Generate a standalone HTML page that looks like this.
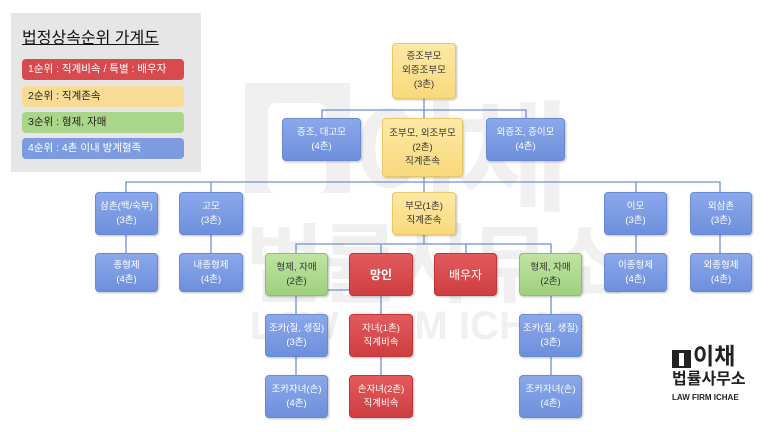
<!DOCTYPE html>
<html><head><meta charset="utf-8"><style>
*{margin:0;padding:0;box-sizing:border-box}
body{width:768px;height:432px;background:#fff;position:relative;overflow:hidden;font-family:"Liberation Sans","Noto Sans CJK KR",sans-serif}
.b{position:absolute;border-radius:4px;display:flex;align-items:center;justify-content:center;text-align:center;font-size:9.5px;line-height:14px;box-shadow:1px 1px 2px rgba(0,0,0,.25);white-space:nowrap}
.bl{background:linear-gradient(#8aa8ea,#6e8fdc);color:#fff;border:1px solid #6a8ad6}
.yl{background:linear-gradient(#fde9a6,#f8d97c);color:#333;border:1px solid #e8c866}
.gr{background:linear-gradient(#bfe4a2,#9fd07e);color:#333;border:1px solid #8cc06c}
.rd{background:linear-gradient(#e35a5c,#cf3e41);color:#fff;border:1px solid #c03638}
.wm{position:absolute;color:#f0f0f0;font-weight:bold;white-space:nowrap}
.lg{position:absolute;left:22px;width:162px;height:21px;border-radius:4px;font-size:10.5px;line-height:21px;padding-left:6px;white-space:nowrap}
</style></head><body>
<div style="position:absolute;left:245px;top:83px;width:105px;height:110px;background:#f0f0f0"></div>
<div style="position:absolute;left:268px;top:103px;width:58px;height:90px;background:#fff;border-radius:8px"></div>
<div class="wm" style="left:352px;top:62px;font-size:120px;letter-spacing:-4px">이채</div>
<div class="wm" style="left:245px;top:195px;font-size:86px;letter-spacing:-4px">법률사무소</div>
<div class="wm" style="left:250px;top:304px;font-size:40px">LAW FIRM ICHAE</div>

<div style="position:absolute;left:11px;top:13px;width:190px;height:159px;background:#e6e6e6"></div>
<div style="position:absolute;left:22px;top:24px;font-size:16px;text-decoration:underline;color:#111">법정상속순위 가계도</div>
<div class="lg" style="top:59px;background:#d94a4e;color:#fff">1순위 : 직계비속 / 특별 : 배우자</div>
<div class="lg" style="top:86px;background:#f8dc96;color:#222">2순위 : 직계존속</div>
<div class="lg" style="top:112px;background:#a9d68a;color:#222">3순위 : 형제, 자매</div>
<div class="lg" style="top:138px;background:#7c9be0;color:#fff">4순위 : 4촌 이내 방계혈족</div>

<svg style="position:absolute;left:0;top:0" width="768" height="432" stroke="#6f8fd3" stroke-width="1.3" fill="none">
<path d="M424 99V118M322 118V110H526V118"/>
<path d="M424 177V192M126 192V182H720V192M211 182V192M636 182V192"/>
<path d="M126 235V253M211 235V253M636 235V253M720 235V253"/>
<path d="M424 235V244M296 253V244H551V253M381 244V253M466 244V253"/>
<path d="M328 290H349"/>
<path d="M296 296V314M381 296V314M551 296V314M296 357V375M381 357V375M551 357V375"/>
</svg>

<div class="b yl" style="left:392px;top:43px;width:64px;height:56px">증조부모<br>외증조부모<br>(3촌)</div>
<div class="b bl" style="left:282px;top:118px;width:79px;height:43px">증조, 대고모<br>(4촌)</div>
<div class="b yl" style="left:382px;top:118px;width:81px;height:59px">조부모, 외조부모<br>(2촌)<br>직계존속</div>
<div class="b bl" style="left:486px;top:118px;width:79px;height:43px">외증조, 증이모<br>(4촌)</div>

<div class="b bl" style="left:95px;top:192px;width:63px;height:43px">삼촌(백/숙부)<br>(3촌)</div>
<div class="b bl" style="left:179px;top:192px;width:64px;height:43px">고모<br>(3촌)</div>
<div class="b yl" style="left:392px;top:192px;width:64px;height:43px">부모(1촌)<br>직계존속</div>
<div class="b bl" style="left:604px;top:192px;width:63px;height:43px">이모<br>(3촌)</div>
<div class="b bl" style="left:690px;top:192px;width:62px;height:43px">외삼촌<br>(3촌)</div>

<div class="b bl" style="left:95px;top:253px;width:63px;height:39px">종형제<br>(4촌)</div>
<div class="b bl" style="left:179px;top:253px;width:64px;height:39px">내종형제<br>(4촌)</div>
<div class="b bl" style="left:604px;top:253px;width:63px;height:39px">이종형제<br>(4촌)</div>
<div class="b bl" style="left:690px;top:253px;width:62px;height:39px">외종형제<br>(4촌)</div>

<div class="b gr" style="left:265px;top:253px;width:63px;height:43px">형제, 자매<br>(2촌)</div>
<div class="b rd" style="left:349px;top:253px;width:64px;height:43px;font-size:12px;font-weight:bold">망인</div>
<div class="b rd" style="left:434px;top:253px;width:63px;height:43px;font-size:12px">배우자</div>
<div class="b gr" style="left:519px;top:253px;width:63px;height:43px">형제, 자매<br>(2촌)</div>

<div class="b bl" style="left:265px;top:314px;width:63px;height:43px">조카(질, 생질)<br>(3촌)</div>
<div class="b rd" style="left:349px;top:314px;width:64px;height:43px">자녀(1촌)<br>직계비속</div>
<div class="b bl" style="left:519px;top:314px;width:63px;height:43px">조카(질, 생질)<br>(3촌)</div>
<div class="b bl" style="left:265px;top:375px;width:63px;height:43px">조카자녀(손)<br>(4촌)</div>
<div class="b rd" style="left:349px;top:375px;width:64px;height:43px">손자녀(2촌)<br>직계비속</div>
<div class="b bl" style="left:519px;top:375px;width:63px;height:43px">조카자녀(손)<br>(4촌)</div>

<div style="position:absolute;left:672px;top:350px;width:19px;height:18px;background:#222"></div>
<div style="position:absolute;left:679px;top:353px;width:5px;height:13px;background:#fff"></div>
<div style="position:absolute;left:693px;top:343px;font-size:23px;font-weight:bold;color:#222;line-height:27px">이채</div>
<div style="position:absolute;left:672px;top:371px;font-size:16px;font-weight:bold;color:#222;line-height:18px">법률사무소</div>
<div style="position:absolute;left:672px;top:393px;font-size:8px;font-weight:bold;color:#222">LAW FIRM ICHAE</div>
</body></html>
